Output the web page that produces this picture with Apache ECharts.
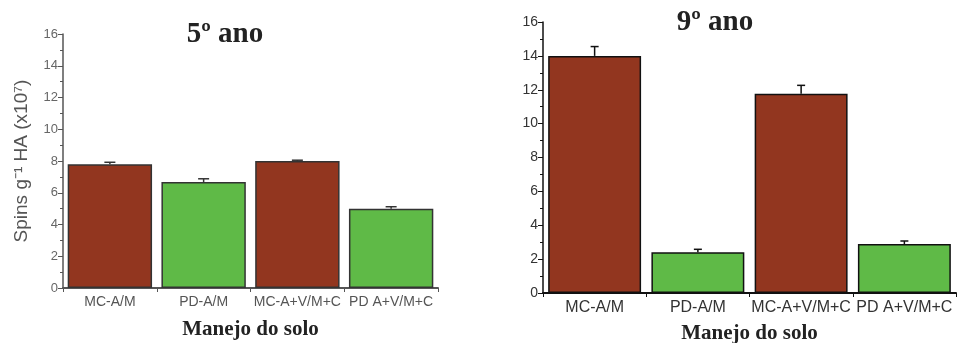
<!DOCTYPE html>
<html><head><meta charset="utf-8">
<script src="https://cdn.jsdelivr.net/npm/echarts@6/dist/echarts.min.js"></script>
<style>html,body{margin:0;padding:0;background:#fff}#c{width:958px;height:343px}</style>
</head><body><div id="c"></div>
<script>
const categories = ['MC-A/M', 'PD-A/M', 'MC-A+V/M+C', 'PD A+V/M+C'];
const ano5Values = [7.8, 6.67, 8.0, 4.99];
const ano5ErrTop = [7.92, 6.88, 8.05, 5.12];
const ano9Values = [14.0, 2.4, 11.77, 2.89];
const ano9ErrTop = [14.55, 2.58, 12.26, 3.07];
const yTicks = [0, 2, 4, 6, 8, 10, 12, 14, 16];

const BROWN = '#92361f', GREEN = '#5fba47';
const chart = echarts.init(document.getElementById('c'));

function errSeries(xi, vals, tops, capW, color, lw) {
  return {
    type: 'custom', xAxisIndex: xi, yAxisIndex: xi, z: 5,
    data: vals.map((v, i) => [i, v, tops[i]]),
    encode: { x: 0, y: [1, 2] },
    renderItem: function (params, api) {
      const p0 = api.coord([api.value(0), api.value(1)]);
      const p1 = api.coord([api.value(0), api.value(2)]);
      return { type: 'group', children: [
        { type: 'line', shape: { x1: p0[0], y1: p0[1], x2: p1[0], y2: p1[1] }, style: { stroke: color, lineWidth: lw } },
        { type: 'line', shape: { x1: p1[0] - capW / 2, y1: p1[1], x2: p1[0] + capW / 2, y2: p1[1] }, style: { stroke: color, lineWidth: lw } }
      ] };
    }
  };
}

function yAxisCfg(gi, lineColor, labelColor, fontSize, name) {
  return {
    gridIndex: gi, type: 'value', min: 0, max: 16, interval: 2,
    axisLine: { show: true, lineStyle: { color: lineColor, width: 1.5 } },
    axisTick: { show: true, length: 5, lineStyle: { color: lineColor } },
    minorTick: { show: true, splitNumber: 2, length: 3, lineStyle: { color: lineColor } },
    splitLine: { show: false },
    axisLabel: { color: labelColor, fontFamily: 'Liberation Sans', fontSize: fontSize, margin: 5,
      formatter: v => yTicks.includes(v) ? String(v) : '' },
    name: name, nameLocation: 'middle', nameRotate: 90, nameGap: 32,
    nameTextStyle: { color: '#555', fontFamily: 'Liberation Sans', fontSize: 19 }
  };
}

function xAxisCfg(gi, lineColor, labelColor, fontSize, gap, margin) {
  return {
    gridIndex: gi, type: 'category', data: categories,
    axisLine: { show: true, lineStyle: { color: lineColor, width: 2 } },
    axisTick: { show: true, length: 4, lineStyle: { color: lineColor } },
    axisLabel: { color: labelColor, fontFamily: 'Liberation Sans', fontSize: fontSize, interval: 0, margin: margin },
    name: 'Manejo do solo', nameLocation: 'middle', nameGap: gap,
    nameTextStyle: { color: '#222', fontFamily: 'Liberation Serif', fontWeight: 'bold', fontSize: 21 }
  };
}

function barSeries(xi, vals, border) {
  return {
    type: 'bar', xAxisIndex: xi, yAxisIndex: xi, barCategoryGap: '10%',
    data: vals,
    itemStyle: { color: p => (p.dataIndex % 2 === 0 ? BROWN : GREEN), borderColor: border, borderWidth: 1.5 }
  };
}

chart.setOption({
  animation: false,
  backgroundColor: '#fff',
  title: [
    { text: '5º ano', left: 220, textAlign: 'center', top: 15,
      textStyle: { fontFamily: 'Liberation Serif', fontWeight: 'bold', fontSize: 29, color: '#222' } },
    { text: '9º ano', left: 710, textAlign: 'center', top: 3,
      textStyle: { fontFamily: 'Liberation Serif', fontWeight: 'bold', fontSize: 29, color: '#222' } }
  ],
  grid: [
    { left: 63, top: 34, width: 375, height: 254, outerBoundsMode: 'none', containLabel: false },
    { left: 543, top: 22, width: 413, height: 271, outerBoundsMode: 'none', containLabel: false }
  ],
  xAxis: [xAxisCfg(0, '#555', '#555', 14, 31, 7), xAxisCfg(1, '#111', '#333', 16, 30, 7)],
  yAxis: [yAxisCfg(0, '#555', '#666', 13, 'Spins g⁻¹ HA (x10⁷)'), yAxisCfg(1, '#111', '#333', 14, '')],
  series: [
    barSeries(0, ano5Values, '#333'),
    errSeries(0, ano5Values, ano5ErrTop, 11, '#333', 1.5),
    barSeries(1, ano9Values, '#111'),
    errSeries(1, ano9Values, ano9ErrTop, 8, '#111', 1.5)
  ]
});
</script></body></html>
